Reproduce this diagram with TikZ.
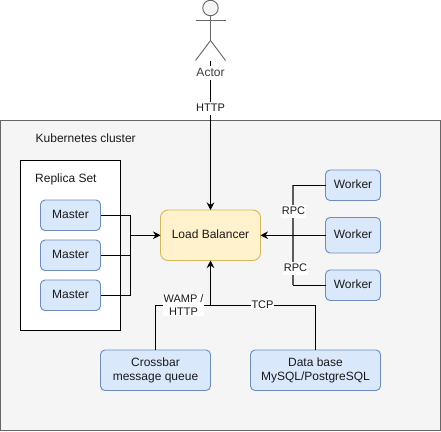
\documentclass[tikz,border=0pt]{standalone}
\usepackage{fontspec}
\setmainfont{Liberation Sans}
\usetikzlibrary{arrows.meta}
\definecolor{bluefill}{HTML}{DAE8FC}
\definecolor{bluedraw}{HTML}{6C8EBF}
\definecolor{yelfill}{HTML}{FFF2CC}
\definecolor{yeldraw}{HTML}{D6B656}
\definecolor{greyfill}{HTML}{F5F5F5}
\definecolor{greydraw}{HTML}{666666}
\definecolor{txt}{HTML}{1A1A1A}
\tikzset{
  box/.style={draw=bluedraw,fill=bluefill,rounded corners=4.5pt,line width=0.9pt,inner sep=0pt,outer sep=0pt,align=center,text=txt,font=\fontsize{12}{14}\selectfont},
  oneline/.style={text height=8.5pt,text depth=2.2pt},
  conn/.style={draw=black,line width=0.9pt},
  arr/.style={conn,-{Stealth[length=7.5pt,width=7.5pt,inset=2.5pt]}},
  lab/.style={fill=white,inner sep=0.6pt,align=center,text=txt,font=\fontsize{11}{13}\selectfont},
  plain/.style={inner sep=0pt,text=txt,font=\fontsize{12}{14}\selectfont},
  actorline/.style={draw=greydraw,line width=0.9pt}
}
\begin{document}
\begin{tikzpicture}[x=1pt,y=-1pt]
\useasboundingbox (0,0) rectangle (441,431);
\fill[white] (0,0) rectangle (441,431);
\draw[draw=greydraw,fill=greyfill,line width=0.9pt] (0.5,120.5) rectangle (440.5,430);
\draw[draw=black,fill=white,line width=0.9pt] (20.5,160.5) rectangle (120.5,330);
\node[plain,anchor=west] (kube) at (35.5,138.5) {Kubernetes cluster};
\node[plain,anchor=west] (rs) at (35,179) {Replica Set};
% actor
\node[draw=greydraw,fill=greyfill,circle,line width=0.9pt,minimum size=15.5pt,inner sep=0pt,outer sep=0pt] (head) at (210.5,8) {};
\coordinate (hip) at (210.5,40.5);
\coordinate (foot) at (210.5,60.5);
\draw[actorline] (head.south) -- (hip) -- (195.5,60.5);
\draw[actorline] (hip) -- (225.5,60.5);
\draw[actorline] (195.5,20.5) -- (225.5,20.5);
% boxes
\node[box,oneline,minimum width=60pt,minimum height=30.5pt] (m1) at (70.5,215.25) {Master};
\node[box,oneline,minimum width=60pt,minimum height=30.5pt] (m2) at (70.5,255.25) {Master};
\node[box,oneline,minimum width=60pt,minimum height=30.5pt] (m3) at (70.5,295.25) {Master};
\node[box,oneline,draw=yeldraw,fill=yelfill,rounded corners=7.5pt,minimum width=100pt,minimum height=50.5pt] (lb) at (210.5,235.25) {Load Balancer};
\node[box,oneline,minimum width=55pt,minimum height=30.5pt] (w1) at (353,185.25) {Worker};
\node[box,oneline,minimum width=55pt,minimum height=35.5pt] (w2) at (353,235.25) {Worker};
\node[box,oneline,minimum width=55pt,minimum height=30.5pt] (w3) at (353,285.25) {Worker};
\node[box,minimum width=110pt,minimum height=40.5pt] (cb) at (155.5,370.25) {Crossbar\\message queue};
\node[box,minimum width=130pt,minimum height=40.5pt] (db) at (315.5,370.25) {Data base\\MySQL/PostgreSQL};
% connectors
\coordinate (mj) at (130.5,235.25);
\draw[conn] (m1.east) -| (mj);
\draw[conn] (m2.east) -| (mj);
\draw[conn] (m3.east) -| (mj);
\draw[arr] (mj) -- (lb.west);
\coordinate (wj) at (293,235.25);
\draw[conn,draw=greydraw!90!black,line width=1.6pt] (293,185.25) -- (293,285.25);
\draw[conn] (w1.west) -- (293,185.25);
\draw[conn] (w3.west) -- (293,285.25);
\draw[arr] (w2.west) -- (lb.east);
\coordinate (bj) at (210.5,305.5);
\draw[conn] (cb.north) |- (bj);
\draw[conn] (db.north) |- (bj);
\draw[arr] (bj) -- (lb.south);
\draw[arr] (foot) -- (lb.north);
% labels
\node[lab,font=\fontsize{12}{14}\selectfont,text=greydraw!60!black,minimum height=14pt] (actor) at (210.5,72.7) {Actor};
\node[lab,minimum height=13pt] (http) at (210.5,108) {HTTP};
\node[lab,minimum width=22pt,minimum height=13pt] (rpc1) at (293.5,211) {RPC};
\node[lab,minimum width=22pt,minimum height=13pt] (rpc2) at (295.5,268) {RPC};
\node[lab] (wamp) at (183.5,305) {WAMP /\\HTTP};
\node[lab] (tcp) at (262.5,305) {TCP};
\end{tikzpicture}
\end{document}
